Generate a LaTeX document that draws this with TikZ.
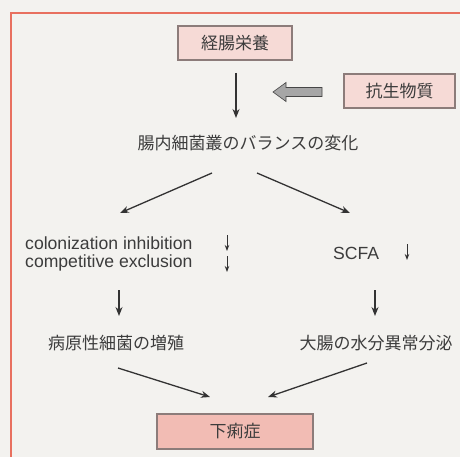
\documentclass[tikz,border=0pt]{standalone}
\usepackage{fontspec}
\setmainfont{Liberation Sans}
\newfontfamily\jp{Noto Sans CJK JP}
\usetikzlibrary{arrows.meta}
\definecolor{bg}{HTML}{F3F2EF}
\definecolor{frame}{HTML}{E8705F}
\definecolor{boxlight}{HTML}{F6DAD6}
\definecolor{boxdark}{HTML}{F2BCB4}
\definecolor{boxline}{HTML}{8C7C7A}
\definecolor{txt}{HTML}{3C3C3C}
\definecolor{arr}{HTML}{333333}
\tikzset{
  jptext/.style={font=\jp\fontsize{17}{19}\selectfont, text=txt, inner sep=0pt},
  entext/.style={font=\fontsize{17.6}{19}\selectfont, text=txt, inner sep=0pt, anchor=west},
  pinkbox/.style={draw=boxline, line width=1.2pt, fill=boxlight},
  darkbox/.style={draw=boxline, line width=1.2pt, fill=boxdark},
  flow/.style={draw=arr, line width=1.3pt, -{Stealth[length=9pt,width=7pt]}},
  small/.style={draw=arr, line width=1pt, -{Stealth[length=6pt,width=4.5pt]}},
}
\begin{document}
\begin{tikzpicture}[x=1pt,y=-1pt]
\fill[bg] (0,0) rectangle (460,457);
\useasboundingbox (0,0) rectangle (460,457);
\draw[frame, line width=1.8pt] (11,457) -- (11,13) -- (460,13);
% boxes
\draw[pinkbox] (178,26) rectangle (292,60);
\node[jptext] (a) at (235,43) {経腸栄養};
\draw[pinkbox] (344,74) rectangle (455,108);
\node[jptext] (b) at (399.5,91) {抗生物質};
\draw[darkbox] (157,414) rectangle (313,449);
\node[jptext] (z) at (235,431.5) {下痢症};
% coordinates
\coordinate (a1) at (236,73);
\coordinate (c0) at (236,118);
\node[jptext] (c) at (248,143) {腸内細菌叢のバランスの変化};
% gray fat arrow
\fill[gray!70, draw=gray!55!black, line width=0.6pt]
  (322,87.5) -- (286,87.5) -- (286,82.5) -- (273,92) -- (286,101.5) -- (286,96.5) -- (322,96.5) -- cycle;
\draw[flow] (a1) -- (c0);
% split
\coordinate (c1) at (212,173);
\coordinate (c2) at (257,173);
\coordinate (l0) at (120,213);
\coordinate (r0) at (350,213);
\draw[flow] (c1) -- (l0);
\draw[flow] (c2) -- (r0);
\node[entext] (ci) at (25,243) {colonization inhibition};
\node[entext] (ce) at (25,263) {competitive exclusion};
\node[entext] (sc) at (333,253) {SCFA};
\coordinate (d1a) at (227,235); \coordinate (d1b) at (227,251);
\coordinate (d2a) at (227,256); \coordinate (d2b) at (227,272);
\coordinate (d3a) at (407,244); \coordinate (d3b) at (407,260);
\draw[small] (d1a) -- (d1b);
\draw[small] (d2a) -- (d2b);
\draw[small] (d3a) -- (d3b);
% down arrows
\coordinate (l1) at (119,290); \coordinate (l2) at (119,316);
\coordinate (r1) at (375,290); \coordinate (r2) at (375,316);
\draw[flow] (l1) -- (l2);
\draw[flow] (r1) -- (r2);
\node[jptext] (p) at (116,343) {病原性細菌の増殖};
\node[jptext] (w) at (376,343) {大腸の水分異常分泌};
\coordinate (p1) at (118,368); \coordinate (p2) at (210,397);
\coordinate (w1) at (367,363); \coordinate (w2) at (268,397);
\draw[flow] (p1) -- (p2);
\draw[flow] (w1) -- (w2);
\end{tikzpicture}
\end{document}
